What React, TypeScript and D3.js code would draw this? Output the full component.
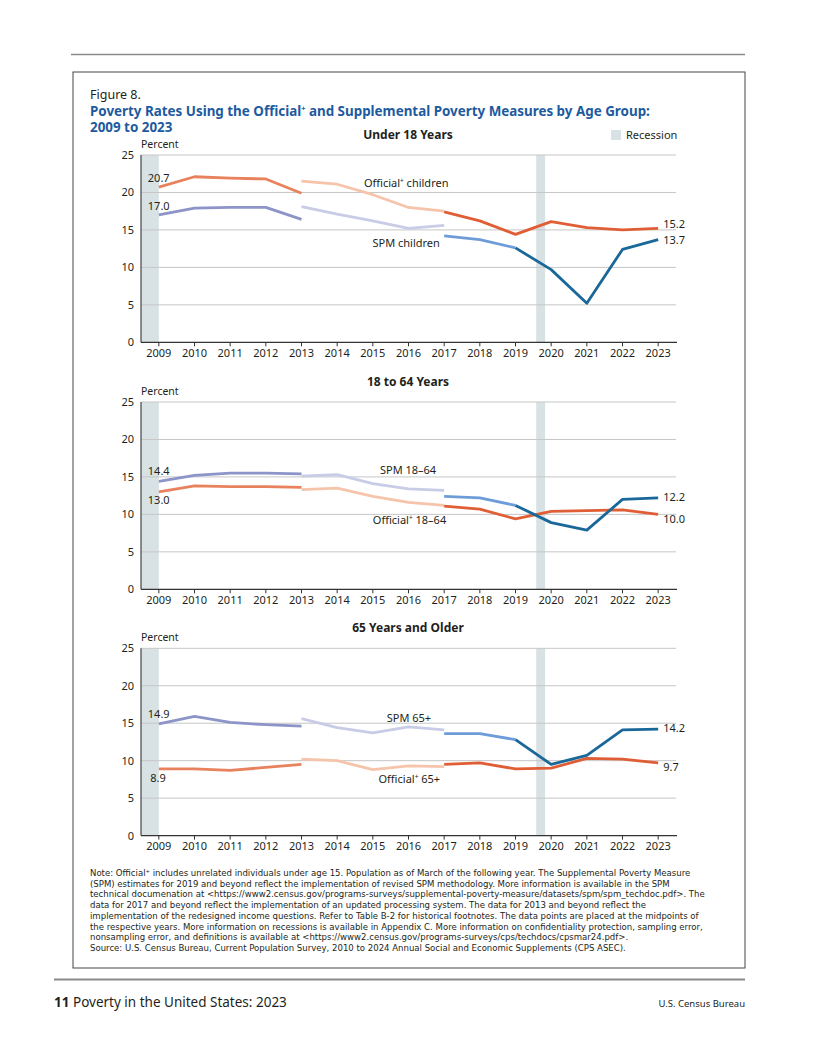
import React from "react";
import * as d3 from "d3";

// years for each piece of the broken series
const yearsA = [2009, 2010, 2011, 2012, 2013];
const yearsB = [2013, 2014, 2015, 2016, 2017];
const yearsC = [2017, 2018, 2019, 2020, 2021, 2022, 2023];
const yearsSpmC = [2017, 2018, 2019];
const yearsSpmD = [2019, 2020, 2021, 2022, 2023];
const tickYears = d3.range(2009, 2024);
const yTicks = [0, 5, 10, 15, 20, 25];

// Under 18
const officialChildA = [20.7, 22.1, 21.9, 21.8, 19.9];
const officialChildB = [21.5, 21.1, 19.7, 18.0, 17.5];
const officialChildC = [17.4, 16.2, 14.4, 16.1, 15.3, 15.0, 15.2];
const spmChildA = [17.0, 17.9, 18.0, 18.0, 16.4];
const spmChildB = [18.1, 17.1, 16.2, 15.2, 15.6];
const spmChildC = [14.2, 13.7, 12.6];
const spmChildD = [12.6, 9.7, 5.2, 12.4, 13.7];

// 18 to 64
const officialAdultA = [13.0, 13.8, 13.7, 13.7, 13.6];
const officialAdultB = [13.3, 13.5, 12.4, 11.6, 11.2];
const officialAdultC = [11.1, 10.7, 9.4, 10.4, 10.5, 10.6, 10.0];
const spmAdultA = [14.4, 15.2, 15.5, 15.5, 15.4];
const spmAdultB = [15.1, 15.3, 14.1, 13.4, 13.2];
const spmAdultC = [12.4, 12.2, 11.2];
const spmAdultD = [11.2, 8.9, 7.9, 12.0, 12.2];

// 65 and older
const officialSeniorA = [8.9, 8.9, 8.7, 9.1, 9.5];
const officialSeniorB = [10.2, 10.0, 8.8, 9.3, 9.2];
const officialSeniorC = [9.5, 9.7, 8.9, 9.0, 10.3, 10.2, 9.7];
const spmSeniorA = [14.9, 15.9, 15.1, 14.8, 14.6];
const spmSeniorB = [15.6, 14.4, 13.7, 14.5, 14.1];
const spmSeniorC = [13.6, 13.6, 12.8];
const spmSeniorD = [12.8, 9.5, 10.7, 14.1, 14.2];

// recessions, in the chart's year units (points sit at mid-year)
const recessions = [
  [2008.5, 2009.0],
  [2019.58, 2019.83],
];

const noteLines = [
  "Note: Official\u207A includes unrelated individuals under age 15. Population as of March of the following year. The Supplemental Poverty Measure",
  "(SPM) estimates for 2019 and beyond reflect the implementation of revised SPM methodology. More information is available in the SPM",
  "technical documenation at <https://www2.census.gov/programs-surveys/supplemental-poverty-measure/datasets/spm/spm_techdoc.pdf>. The",
  "data for 2017 and beyond reflect the implementation of an updated processing system. The data for 2013 and beyond reflect the",
  "implementation of the redesigned income questions. Refer to Table B-2 for historical footnotes. The data points are placed at the midpoints of",
  "the respective years. More information on recessions is available in Appendix C. More information on confidentiality protection, sampling error,",
  "nonsampling error, and definitions is available at <https://www2.census.gov/programs-surveys/cps/techdocs/cpsmar24.pdf>.",
  "Source: U.S. Census Bureau, Current Population Survey, 2010 to 2024 Annual Social and Economic Supplements (CPS ASEC).",
];

const FONT = "'Noto Sans', sans-serif";
const NOTE_FONT = "'DejaVu Sans', sans-serif";
const TEXT = "#231f20";
const colors = {
  offA: "#e8825c",
  offB: "#f5c4aa",
  offC: "#e05e36",
  spmA: "#8c94c8",
  spmB: "#c8cce6",
  spmC: "#6e9cd8",
  spmD: "#1a6899",
};

const x = d3.scaleLinear().domain([2008.5, 2023.5]).range([141, 676]);

const Official = ({ text }: { text: string }) => (
  <>
    Official
    <tspan fontSize={6.5} dy={-4}>+</tspan>
    <tspan dy={4}>{text}</tspan>
  </>
);

const Panel = ({ top, title, segments, labels }: any) => {
  const y = d3.scaleLinear().domain([0, 25]).range([top + 187.3, top]);
  const line = d3
    .line<[number, number]>()
    .x((d) => x(d[0]))
    .y((d) => y(d[1]));
  const bottom = y(0);
  return (
    <g>
      <text x={408} y={top - 16.5} textAnchor="middle" fontWeight="bold" fontSize={12} fill={TEXT}>
        {title}
      </text>
      <text x={141} y={top - 7} fontSize={10.5} fill={TEXT}>Percent</text>
      {recessions.map((r, i) => (
        <rect key={i} x={x(r[0])} y={top} width={x(r[1]) - x(r[0])} height={bottom - top} fill="#d8e2e4" />
      ))}
      {yTicks.map((t) => (
        <g key={t}>
          {t > 0 && <line x1={141} x2={676} y1={y(t)} y2={y(t)} stroke="#c6c6c6" strokeWidth={1} />}
          <text x={134} y={y(t) + 4} textAnchor="end" fontSize={11} fill={TEXT}>{t}</text>
        </g>
      ))}
      <line x1={141} x2={141} y1={top} y2={bottom} stroke="#444" strokeWidth={1.2} />
      <line x1={141} x2={677} y1={bottom} y2={bottom} stroke="#333" strokeWidth={1.2} />
      {tickYears.map((yr) => (
        <g key={yr}>
          <line x1={x(yr)} x2={x(yr)} y1={bottom} y2={bottom + 4} stroke="#333" strokeWidth={1} />
          <text x={x(yr)} y={bottom + 14.5} textAnchor="middle" fontSize={11} fill={TEXT}>{yr}</text>
        </g>
      ))}
      {segments.map((s: any, i: number) => (
        <path
          key={i}
          d={line(s.years.map((yr: number, j: number) => [yr, s.values[j]]) as [number, number][]) || ""}
          fill="none"
          stroke={s.color}
          strokeWidth={2.8}
          strokeLinejoin="round"
        />
      ))}
      {labels.map((l: any, i: number) => (
        <text key={i} x={x(l.year) + l.dx} y={y(l.value) + l.dy} fontSize={11} fill={TEXT}>
          {l.official ? <Official text={l.text} /> : l.text}
        </text>
      ))}
    </g>
  );
};

const seg = (years: number[], values: number[], color: string) => ({ years, values, color });

const panels = [
  {
    top: 155,
    title: "Under 18 Years",
    segments: [
      seg(yearsA, officialChildA, colors.offA),
      seg(yearsB, officialChildB, colors.offB),
      seg(yearsC, officialChildC, colors.offC),
      seg(yearsA, spmChildA, colors.spmA),
      seg(yearsB, spmChildB, colors.spmB),
      seg(yearsSpmC, spmChildC, colors.spmC),
      seg(yearsSpmD, spmChildD, colors.spmD),
    ],
    labels: [
      { year: 2009, value: officialChildA[0], dx: -11, dy: -5, text: officialChildA[0].toFixed(1) },
      { year: 2009, value: spmChildA[0], dx: -11, dy: -5, text: spmChildA[0].toFixed(1) },
      { year: 2023, value: officialChildC[6], dx: 5, dy: 0, text: officialChildC[6].toFixed(1) },
      { year: 2023, value: spmChildD[4], dx: 5, dy: 4.5, text: spmChildD[4].toFixed(1) },
      { year: 2014.75, value: 20.7, dx: 0, dy: 0, text: " children", official: true },
      { year: 2014.99, value: 12.75, dx: 0, dy: 0, text: "SPM children" },
    ],
  },
  {
    top: 402,
    title: "18 to 64 Years",
    segments: [
      seg(yearsA, officialAdultA, colors.offA),
      seg(yearsB, officialAdultB, colors.offB),
      seg(yearsC, officialAdultC, colors.offC),
      seg(yearsA, spmAdultA, colors.spmA),
      seg(yearsB, spmAdultB, colors.spmB),
      seg(yearsSpmC, spmAdultC, colors.spmC),
      seg(yearsSpmD, spmAdultD, colors.spmD),
    ],
    labels: [
      { year: 2009, value: spmAdultA[0], dx: -11, dy: -6, text: spmAdultA[0].toFixed(1) },
      { year: 2009, value: officialAdultA[0], dx: -11, dy: 12.5, text: officialAdultA[0].toFixed(1) },
      { year: 2023, value: spmAdultD[4], dx: 5, dy: 3, text: spmAdultD[4].toFixed(1) },
      { year: 2023, value: officialAdultC[6], dx: 5, dy: 9, text: officialAdultC[6].toFixed(1) },
      { year: 2015.2, value: 15.35, dx: 0, dy: 0, text: "SPM 18\u201364" },
      { year: 2015.0, value: 8.68, dx: 0, dy: 0, text: " 18\u201364", official: true },
    ],
  },
  {
    top: 648.3,
    title: "65 Years and Older",
    segments: [
      seg(yearsA, officialSeniorA, colors.offA),
      seg(yearsB, officialSeniorB, colors.offB),
      seg(yearsC, officialSeniorC, colors.offC),
      seg(yearsA, spmSeniorA, colors.spmA),
      seg(yearsB, spmSeniorB, colors.spmB),
      seg(yearsSpmC, spmSeniorC, colors.spmC),
      seg(yearsSpmD, spmSeniorD, colors.spmD),
    ],
    labels: [
      { year: 2009, value: spmSeniorA[0], dx: -11, dy: -5.7, text: spmSeniorA[0].toFixed(1) },
      { year: 2009, value: officialSeniorA[0], dx: -8.5, dy: 12.7, text: officialSeniorA[0].toFixed(1) },
      { year: 2023, value: spmSeniorD[4], dx: 5, dy: 3, text: spmSeniorD[4].toFixed(1) },
      { year: 2023, value: officialSeniorC[6], dx: 5, dy: 8, text: officialSeniorC[6].toFixed(1) },
      { year: 2015.39, value: 15.2, dx: 0, dy: 0, text: "SPM 65+" },
      { year: 2015.16, value: 7.07, dx: 0, dy: 0, text: " 65+", official: true },
    ],
  },
];

export default function App() {
  return (
    <div style={{ position: "absolute", left: 0, top: 0 }}>
      <svg width={816} height={1056} fontFamily={FONT} style={{ display: "block" }}>
        <rect width={816} height={1056} fill="#fff" />
        <line x1={71} x2={745} y1={54.5} y2={54.5} stroke="#8a8a8a" strokeWidth={1.5} />
        <rect x={73} y={72} width={672} height={896} fill="none" stroke="#444" strokeWidth={1} />

        <text x={90} y={98.5} fontSize={12.5} fill={TEXT}>Figure 8.</text>
        <text x={90} y={115.5} fontWeight="bold" fontSize={13.4} fill="#1d5aa0">
          Poverty Rates Using the Official
          <tspan fontSize={7.5} dy={-5}>+</tspan>
          <tspan dy={5}> and Supplemental Poverty Measures by Age Group:</tspan>
        </text>
        <text x={90} y={131.5} fontWeight="bold" fontSize={13.4} fill="#1d5aa0">2009 to 2023</text>

        <rect x={611} y={130} width={10} height={10} fill="#d8e2e4" />
        <text x={626} y={139} fontSize={11} fill={TEXT}>Recession</text>

        {panels.map((p) => (
          <Panel key={p.title} {...p} />
        ))}

        {noteLines.map((t, i) => (
          <text key={i} x={90} y={876 + i * 10.7} fontFamily={NOTE_FONT} fontSize={8.55} fill={TEXT}>{t}</text>
        ))}

        <line x1={54} x2={745} y1={979.5} y2={979.5} stroke="#8a8a8a" strokeWidth={2} />
        <text x={54} y={1007} fontSize={13.5} fill={TEXT}>
          <tspan fontWeight="bold">11</tspan> Poverty in the United States: 2023
        </text>
        <text x={745} y={1007} textAnchor="end" fontSize={9.5} fill={TEXT}>U.S. Census Bureau</text>
      </svg>
    </div>
  );
}
